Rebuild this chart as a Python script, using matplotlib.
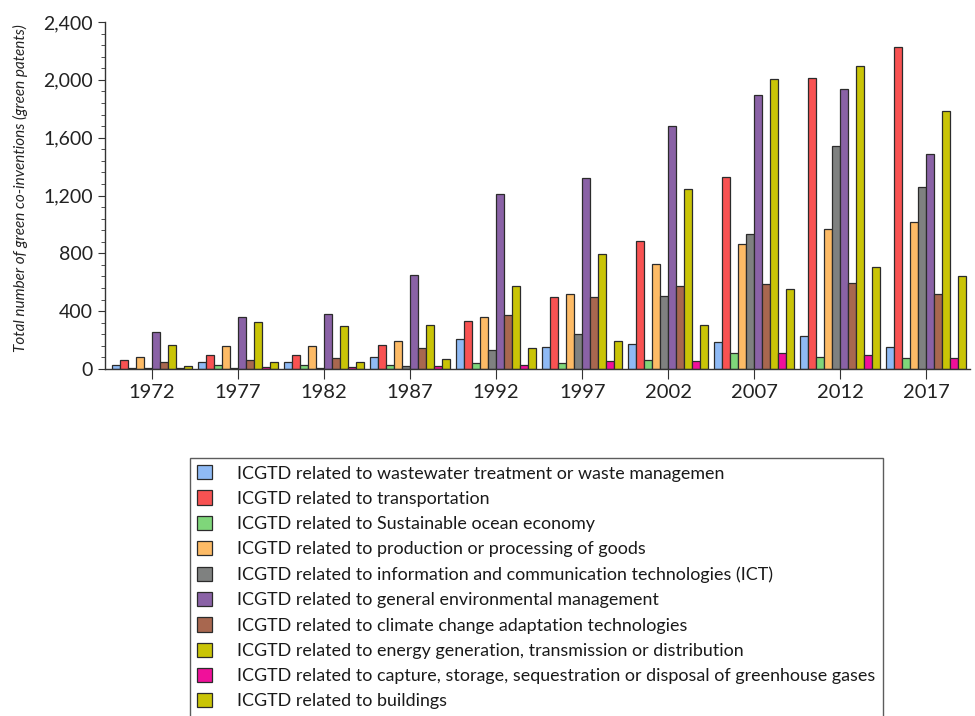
# Green co-inventions (ICGTD) by technology field, 5-year steps
import numpy as np
import matplotlib
matplotlib.use("Agg")
import matplotlib.pyplot as plt
from matplotlib.ticker import MultipleLocator, FuncFormatter

plt.rcParams['font.family'] = ['Lato', 'DejaVu Sans']

# -----------------------------
#  Data
# -----------------------------
years = ['1972', '1977', '1982', '1987', '1992', '1997', '2002', '2007', '2012', '2017']

labels = [
    'ICGTD related to wastewater treatment or waste managemen',
    'ICGTD related to transportation',
    'ICGTD related to Sustainable ocean economy',
    'ICGTD related to production or processing of goods',
    'ICGTD related to information and communication technologies (ICT)',
    'ICGTD related to general environmental management',
    'ICGTD related to climate change adaptation technologies',
    'ICGTD related to energy generation, transmission or distribution',
    'ICGTD related to capture, storage, sequestration or disposal of greenhouse gases',
    'ICGTD related to buildings',
]

wastewater     = [28, 46, 50, 80, 210, 155, 176, 190, 228, 155]
transportation = [60, 95, 95, 168, 335, 495, 884, 1325, 2012, 2225]
ocean          = [10, 25, 25, 28, 42, 44, 65, 108, 83, 78]
production     = [84, 158, 160, 196, 360, 516, 729, 865, 971, 1016]
ict            = [5, 4, 8, 20, 135, 240, 502, 935, 1545, 1256]
general_env    = [254, 363, 380, 652, 1210, 1318, 1679, 1894, 1936, 1487]
adaptation     = [48, 65, 76, 142, 374, 496, 575, 588, 595, 518]
energy         = [168, 326, 296, 304, 574, 794, 1242, 2005, 2097, 1785]
ghg            = [4, 12, 14, 20, 28, 55, 58, 108, 99, 78]
buildings      = [20, 50, 46, 68, 148, 192, 307, 553, 708, 645]

series = [wastewater, transportation, ocean, production, ict,
          general_env, adaptation, energy, ghg, buildings]

colors = ['#8fbaf5', '#f85252', '#7fd67a', '#fdbb66', '#7f8180',
          '#8a62a6', '#a8674f', '#c9c406', '#f0109a', '#c9c406']

# -----------------------------
#  Plot
# -----------------------------
fig = plt.figure(figsize=(9.75, 7.16), dpi=100)
ax = fig.add_axes([0.1077, 0.4846, 0.8873, 0.4847])

x = np.arange(len(years))
n = len(series)
w = 0.093
for i, (vals, c, lab) in enumerate(zip(series, colors, labels)):
    ax.bar(x + (i - (n - 1) / 2) * w, vals, width=w, color=c,
           edgecolor='#2b2b2b', linewidth=0.9, label=lab)

ax.set_xlim(-0.547, 9.51)
ax.set_ylim(0, 2400)
ax.set_xticks(x)
ax.set_xticklabels(years)
ax.yaxis.set_major_locator(MultipleLocator(400))
ax.yaxis.set_minor_locator(MultipleLocator(80))
ax.yaxis.set_major_formatter(FuncFormatter(lambda v, p: f'{int(v):,}'))

for s in ['top', 'right']:
    ax.spines[s].set_visible(False)
for s in ['left', 'bottom']:
    ax.spines[s].set_color('#333333')
    ax.spines[s].set_linewidth(1.0)

ax.tick_params(axis='y', which='major', length=5, labelsize=14, colors='#333333', labelcolor='#222222')
ax.tick_params(axis='y', which='minor', length=3, colors='#333333')
ax.tick_params(axis='x', length=7, labelsize=14.5, colors='#333333', labelcolor='#222222', pad=4)

ax.set_ylabel('Total number of green co-inventions (green patents)',
              fontsize=11, style='italic', color='#222222')
ax.yaxis.set_label_coords(-0.089, 0.52)

leg = fig.legend(loc='upper left', bbox_to_anchor=(190 / 975, 1 - 458 / 716),
                 fontsize=12.9, frameon=True, fancybox=False, edgecolor='#333333',
                 handlelength=0.8, handleheight=0.85, handletextpad=1.45,
                 labelspacing=0.5, borderpad=0.4, borderaxespad=0)
leg.get_frame().set_linewidth(1.0)
for t in leg.get_texts():
    t.set_color('#1a1a1a')

fig.savefig('out.png', dpi=100)
